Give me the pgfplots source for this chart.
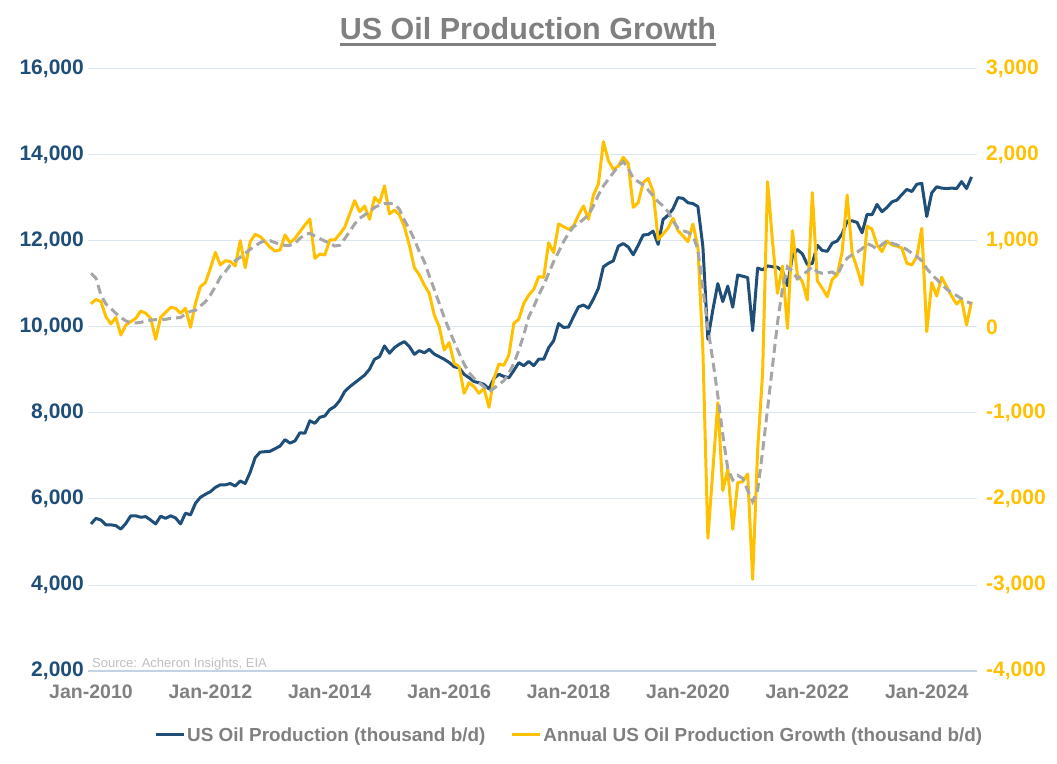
\documentclass[border=0pt]{standalone}
\usepackage{fontspec}
\setmainfont{Liberation Sans}
\usepackage{pgfplots}
\pgfplotsset{compat=1.18}
\usepackage{pgfplotstable}
\definecolor{prodblue}{HTML}{1F4E79}
\definecolor{gold}{HTML}{FFC000}
\definecolor{magrey}{HTML}{A6A6A6}
\definecolor{txtgrey}{HTML}{808080}
\definecolor{gridc}{HTML}{DAE6F2}
\definecolor{axisc}{HTML}{C3D3E4}
\definecolor{srcgrey}{HTML}{BFBFBF}

\pgfplotstableread{
m prod gr ma
0 5420 270 624
1 5550 320 566
2 5510 295 372
3 5400 120 267
4 5400 35 217
5 5380 112 159
6 5300 -93 112
7 5430 23 70
8 5610 62 50
9 5610 101 47
10 5575 186 54
11 5590 159 70
12 5510 101 81
13 5420 -143 85
14 5600 112 85
15 5550 171 89
16 5610 229 101
17 5560 217 105
18 5420 159 110
19 5670 217 151
20 5630 -4 182
21 5900 275 194
22 6040 469 244
23 6110 516 295
24 6170 682 372
25 6270 868 469
26 6330 721 578
27 6330 771 643
28 6360 760 720
29 6300 709 771
30 6420 1004 810
31 6360 690 857
32 6620 992 903
33 6960 1078 942
34 7090 1050 981
35 7100 992 1004
36 7110 926 1004
37 7170 884 981
38 7230 895 961
39 7380 1070 950
40 7300 981 950
41 7350 1031 973
42 7540 1109 1031
43 7530 1186 1078
44 7820 1256 1089
45 7760 798 1058
46 7900 849 1027
47 7930 837 1000
48 8080 1012 973
49 8150 1012 942
50 8290 1081 950
51 8500 1159 1027
52 8610 1314 1109
53 8700 1469 1198
54 8790 1341 1264
55 8880 1407 1302
56 9020 1252 1341
57 9250 1508 1390
58 9310 1446 1417
59 9560 1640 1434
60 9390 1314 1438
61 9520 1360 1430
62 9600 1302 1368
63 9660 1167 1244
64 9545 950 1136
65 9365 690 1019
66 9450 605 876
67 9400 488 760
68 9480 391 593
69 9370 140 438
70 9310 4 275
71 9250 -267 112
72 9175 -182 -35
73 9075 -422 -171
74 9050 -461 -306
75 8900 -771 -430
76 8820 -647 -531
77 8730 -694 -597
78 8705 -771 -647
79 8665 -713 -694
80 8560 -934 -752
81 8805 -597 -713
82 8900 -430 -667
83 8850 -446 -624
84 8820 -326 -539
85 8990 43 -422
86 9170 90 -270
87 9100 275 -90
88 9200 372 120
89 9100 438 236
90 9250 585 372
91 9250 578 488
92 9520 980 624
93 9680 864 760
94 10080 1198 876
95 9990 1166 992
96 10000 1136 1089
97 10240 1174 1166
98 10470 1302 1205
99 10510 1407 1252
100 10440 1252 1302
101 10650 1535 1407
102 10900 1663 1535
103 11400 2155 1640
104 11480 1934 1717
105 11540 1833 1795
106 11880 1872 1872
107 11940 1973 1922
108 11860 1903 1845
109 11680 1391 1729
110 11900 1446 1690
111 12140 1678 1651
112 12150 1729 1593
113 12230 1574 1523
114 11920 1019 1457
115 12500 1081 1407
116 12600 1150 1340
117 12750 1264 1230
118 13010 1120 1150
119 12990 1058 1120
120 12890 992 1100
121 12870 1198 1060
122 12800 926 900
123 11870 -270 450
124 9715 -2457 -10
125 10400 -1668 -390
126 11010 -880 -800
127 10590 -1903 -1250
128 10950 -1655 -1650
129 10460 -2352 -1780
130 11210 -1810 -1725
131 11180 -1798 -1760
132 11150 -1709 -1900
133 9915 -2934 -2030
134 11370 -1435 -1900
135 11330 -540 -1450
136 11420 1690 -950
137 11400 990 -450
138 11390 391 50
139 11300 709 450
140 10960 -16 700
141 11650 1120 650
142 11800 605 560
143 11700 527 600
144 11450 314 650
145 11480 1562 700
146 11900 539 640
147 11780 450 625
148 11760 353 630
149 11950 554 640
150 12000 605 600
151 12170 876 720
152 12460 1535 800
153 12470 857 840
154 12430 682 870
155 12190 488 910
156 12620 1174 970
157 12610 1136 945
158 12850 953 905
159 12680 876 960
160 12780 1000 1000
161 12910 953 975
162 12950 942 955
163 13080 915 930
164 13200 740 900
165 13150 721 860
166 13320 818 820
167 13340 1147 770
168 12570 -54 680
169 13120 516 610
170 13260 360 555
171 13230 578 495
172 13220 469 440
173 13230 360 400
174 13220 267 365
175 13380 322 330
176 13220 23 295
177 13490 295 270
}\data

\pgfplotsset{
  common/.style={
    at={(0,0)}, anchor=south west,
    scale only axis, width=889bp, height=602bp,
    xmin=-0.6, xmax=178.1,
    major tick length=0pt,
    scaled y ticks=false,
    /pgf/number format/.cd, fixed, 1000 sep={,}, assume math mode=true,
    /pgfplots/.cd,
    xticklabel style={font=\bfseries\fontsize{19.5bp}{23bp}\selectfont},
    yticklabel style={font=\bfseries\fontsize{21bp}{25bp}\selectfont},
  }
}

\begin{document}
\begin{tikzpicture}
\useasboundingbox (-88bp,-93bp) rectangle (969bp,671bp);
\begin{axis}[common,
  ymin=2000, ymax=16000,
  ytick={2000,4000,...,16000},
  xtick={0,24,...,168},
  xticklabels={Jan-2010,Jan-2012,Jan-2014,Jan-2016,Jan-2018,Jan-2020,Jan-2022,Jan-2024},
  axis x line*=bottom, axis y line*=left,
  y axis line style={draw=none},
  x axis line style={draw=axisc, line width=1.2bp},
  ymajorgrids, grid style={draw=gridc, line width=1bp},
  yticklabel style={text=prodblue, anchor=east, inner sep=0pt, xshift=-4bp},
  xticklabel style={text=txtgrey, anchor=north, inner sep=0pt, yshift=-14bp},
]
\addplot[prodblue, line width=3bp, line join=round] table[x=m, y=prod] {\data};
\end{axis}
\begin{axis}[common,
  ymin=-4000, ymax=3000,
  ytick={-4000,-3000,...,3000},
  axis x line=none, axis y line*=right,
  y axis line style={draw=none},
  yticklabel style={text=gold, anchor=west, inner sep=0pt, xshift=9bp},
  legend columns=2,
  legend style={at={(0.0709,-0.1063)}, anchor=west, draw=none, fill=none,
    font=\bfseries\fontsize{18.9bp}{22bp}\selectfont, text=txtgrey,
    nodes={inner sep=2bp},
    /tikz/every even column/.append style={column sep=23bp}},
  legend image code/.code={\draw[#1, line width=3bp] (0bp,0bp) -- (28bp,0bp);},
]
\addlegendimage{prodblue}
\addlegendentry{US Oil Production (thousand b/d)}
\addplot[gold, line width=3bp, line join=round] table[x=m, y=gr] {\data};
\addlegendentry{Annual US Oil Production Growth (thousand b/d)}
\addplot[magrey, line width=3bp, dash pattern=on 9bp off 5bp, forget plot] table[x=m, y=ma] {\data};
\end{axis}
\node[anchor=base, inner sep=0pt, text=txtgrey, font=\bfseries\fontsize{30.5bp}{34bp}\selectfont] (T) at (440bp,631bp) {US Oil Production Growth};
\draw[txtgrey, line width=2.5bp] ([yshift=-4.5bp]T.base west) -- ([yshift=-4.5bp]T.base east);
\node[anchor=base west, inner sep=0pt, text=srcgrey, font=\fontsize{13bp}{15bp}\selectfont] at (4bp,4bp) {Source: Acheron Insights, EIA};
\end{tikzpicture}
\end{document}
